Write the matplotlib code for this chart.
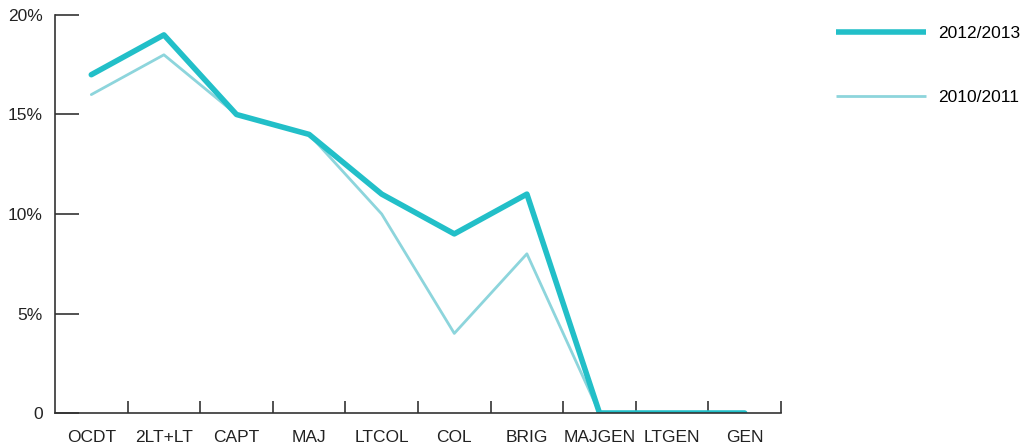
import numpy as np
import matplotlib.pyplot as plt

plt.rcParams['font.family'] = ['Liberation Sans', 'DejaVu Sans']

ranks = ['OCDT', '2LT+LT', 'CAPT', 'MAJ', 'LTCOL', 'COL', 'BRIG', 'MAJGEN', 'LTGEN', 'GEN']
y_2012_2013 = [17, 19, 15, 14, 11, 9, 11, 0, 0, 0]
y_2010_2011 = [16, 18, 15, 14, 10, 4, 8, 0, 0, 0]
yticks = [0, 5, 10, 15, 20]
ytick_labels = ['0', '5%', '10%', '15%', '20%']

x = np.arange(len(ranks))

plt.figure(figsize=(10.25, 4.48), dpi=100)
plt.axes([55/1025, 35/448, 726/1025, 398/448])

plt.plot(x, y_2010_2011, color='#8dd5dc', linewidth=2, label='2010/2011', solid_capstyle='round')
plt.plot(x, y_2012_2013, color='#22bfc8', linewidth=4, label='2012/2013', solid_capstyle='round')

plt.xlim(-0.5, 9.5)
plt.ylim(0, 20)
plt.xticks(x, ranks, fontsize=12.5, color='#222222')
plt.yticks(yticks, ytick_labels, fontsize=12.5, color='#222222')
ax = plt.gca()
ax.set_xticks(list(x[:-1] + 0.5) + [9.5], minor=True)
ax.tick_params(axis='x', which='major', length=0, pad=12)
ax.tick_params(axis='x', which='minor', direction='in', length=9, width=1.2, color='#333333')
ax.tick_params(axis='y', direction='in', length=17, width=1.2, color='#333333', pad=9)
ax.spines['top'].set_visible(False)
ax.spines['right'].set_visible(False)
ax.spines['left'].set_color('#333333')
ax.spines['bottom'].set_color('#333333')
ax.spines['left'].set_linewidth(1.2)
ax.spines['bottom'].set_linewidth(1.2)

handles, labels = ax.get_legend_handles_labels()
leg = plt.legend(handles[::-1], labels[::-1], loc='upper left', bbox_to_anchor=(1.076, 0.972),
                 frameon=False, fontsize=12.5, handlelength=5.2, handletextpad=0.7,
                 labelspacing=2.8, borderpad=0, borderaxespad=0)
for line in leg.get_lines():
    line.set_solid_capstyle('butt')

plt.savefig('out.png', dpi=100)
